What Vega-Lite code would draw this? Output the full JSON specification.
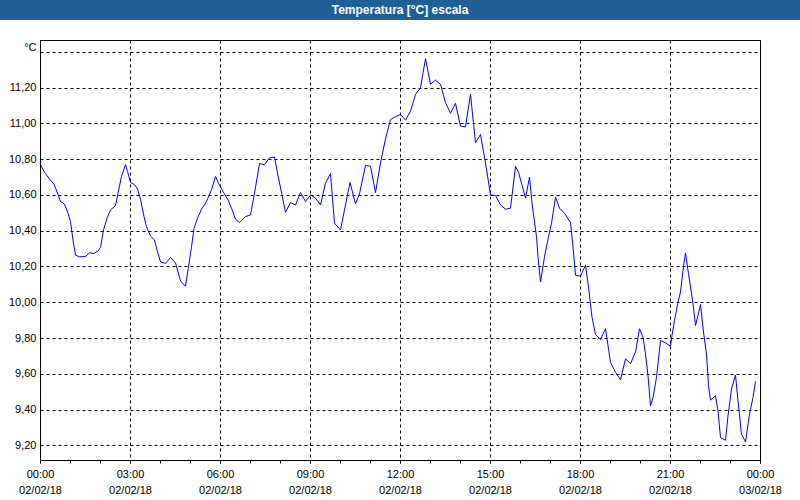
{
  "$schema": "https://vega.github.io/schema/vega-lite/v6.json",
  "padding": 0,
  "background": "#ffffff",
  "spacing": 20,
  "bounds": "flush",
  "center": true,
  "config": {"font": "Liberation Sans"},
  "vconcat": [
    {
      "width": 800,
      "height": 20,
      "view": {"fill": "#1e5f98", "stroke": null},
      "data": {"values": [{"label": "Temperatura [°C] escala"}]},
      "mark": {"type": "text", "color": "white", "fontWeight": "bold", "fontSize": 12, "font": "Liberation Sans", "baseline": "middle"},
      "encoding": {"text": {"field": "label"}}
    },
    {
      "width": 720,
      "height": 420,
      "view": {"fill": "white", "stroke": "black", "strokeWidth": 1},
      "data": {"values": [
        {"t": "2018-02-02T00:00Z", "v": 10.775},
        {"t": "2018-02-02T00:09Z", "v": 10.726},
        {"t": "2018-02-02T00:19Z", "v": 10.689},
        {"t": "2018-02-02T00:28Z", "v": 10.66},
        {"t": "2018-02-02T00:35Z", "v": 10.61},
        {"t": "2018-02-02T00:41Z", "v": 10.563},
        {"t": "2018-02-02T00:49Z", "v": 10.548},
        {"t": "2018-02-02T00:56Z", "v": 10.498},
        {"t": "2018-02-02T01:01Z", "v": 10.45},
        {"t": "2018-02-02T01:06Z", "v": 10.348},
        {"t": "2018-02-02T01:11Z", "v": 10.263},
        {"t": "2018-02-02T01:19Z", "v": 10.254},
        {"t": "2018-02-02T01:31Z", "v": 10.256},
        {"t": "2018-02-02T01:39Z", "v": 10.276},
        {"t": "2018-02-02T01:48Z", "v": 10.273},
        {"t": "2018-02-02T01:56Z", "v": 10.286},
        {"t": "2018-02-02T02:01Z", "v": 10.307},
        {"t": "2018-02-02T02:07Z", "v": 10.404},
        {"t": "2018-02-02T02:14Z", "v": 10.47},
        {"t": "2018-02-02T02:21Z", "v": 10.516},
        {"t": "2018-02-02T02:31Z", "v": 10.54},
        {"t": "2018-02-02T02:36Z", "v": 10.61},
        {"t": "2018-02-02T02:43Z", "v": 10.703},
        {"t": "2018-02-02T02:51Z", "v": 10.769},
        {"t": "2018-02-02T02:55Z", "v": 10.731},
        {"t": "2018-02-02T03:01Z", "v": 10.67},
        {"t": "2018-02-02T03:09Z", "v": 10.657},
        {"t": "2018-02-02T03:15Z", "v": 10.633},
        {"t": "2018-02-02T03:21Z", "v": 10.576},
        {"t": "2018-02-02T03:28Z", "v": 10.479},
        {"t": "2018-02-02T03:33Z", "v": 10.422},
        {"t": "2018-02-02T03:41Z", "v": 10.37},
        {"t": "2018-02-02T03:49Z", "v": 10.348},
        {"t": "2018-02-02T03:55Z", "v": 10.282},
        {"t": "2018-02-02T04:01Z", "v": 10.226},
        {"t": "2018-02-02T04:11Z", "v": 10.217},
        {"t": "2018-02-02T04:21Z", "v": 10.25},
        {"t": "2018-02-02T04:31Z", "v": 10.22},
        {"t": "2018-02-02T04:41Z", "v": 10.119},
        {"t": "2018-02-02T04:51Z", "v": 10.089},
        {"t": "2018-02-02T04:57Z", "v": 10.198},
        {"t": "2018-02-02T05:03Z", "v": 10.31},
        {"t": "2018-02-02T05:08Z", "v": 10.413},
        {"t": "2018-02-02T05:15Z", "v": 10.47},
        {"t": "2018-02-02T05:23Z", "v": 10.52},
        {"t": "2018-02-02T05:29Z", "v": 10.544},
        {"t": "2018-02-02T05:36Z", "v": 10.582},
        {"t": "2018-02-02T05:43Z", "v": 10.629},
        {"t": "2018-02-02T05:51Z", "v": 10.703},
        {"t": "2018-02-02T05:57Z", "v": 10.666},
        {"t": "2018-02-02T06:06Z", "v": 10.619},
        {"t": "2018-02-02T06:16Z", "v": 10.572},
        {"t": "2018-02-02T06:23Z", "v": 10.526},
        {"t": "2018-02-02T06:31Z", "v": 10.464},
        {"t": "2018-02-02T06:39Z", "v": 10.445},
        {"t": "2018-02-02T06:51Z", "v": 10.479},
        {"t": "2018-02-02T07:01Z", "v": 10.488},
        {"t": "2018-02-02T07:09Z", "v": 10.61},
        {"t": "2018-02-02T07:19Z", "v": 10.775},
        {"t": "2018-02-02T07:29Z", "v": 10.769},
        {"t": "2018-02-02T07:39Z", "v": 10.807},
        {"t": "2018-02-02T07:49Z", "v": 10.812},
        {"t": "2018-02-02T07:55Z", "v": 10.722},
        {"t": "2018-02-02T08:04Z", "v": 10.6},
        {"t": "2018-02-02T08:11Z", "v": 10.503},
        {"t": "2018-02-02T08:21Z", "v": 10.557},
        {"t": "2018-02-02T08:31Z", "v": 10.544},
        {"t": "2018-02-02T08:41Z", "v": 10.613},
        {"t": "2018-02-02T08:51Z", "v": 10.563},
        {"t": "2018-02-02T09:01Z", "v": 10.6},
        {"t": "2018-02-02T09:11Z", "v": 10.582},
        {"t": "2018-02-02T09:21Z", "v": 10.544},
        {"t": "2018-02-02T09:31Z", "v": 10.666},
        {"t": "2018-02-02T09:41Z", "v": 10.719},
        {"t": "2018-02-02T09:49Z", "v": 10.442},
        {"t": "2018-02-02T10:01Z", "v": 10.404},
        {"t": "2018-02-02T10:09Z", "v": 10.516},
        {"t": "2018-02-02T10:20Z", "v": 10.67},
        {"t": "2018-02-02T10:31Z", "v": 10.55},
        {"t": "2018-02-02T10:39Z", "v": 10.606},
        {"t": "2018-02-02T10:51Z", "v": 10.765},
        {"t": "2018-02-02T11:01Z", "v": 10.76},
        {"t": "2018-02-02T11:11Z", "v": 10.613},
        {"t": "2018-02-02T11:21Z", "v": 10.779},
        {"t": "2018-02-02T11:31Z", "v": 10.913},
        {"t": "2018-02-02T11:41Z", "v": 11.022},
        {"t": "2018-02-02T11:51Z", "v": 11.037},
        {"t": "2018-02-02T12:01Z", "v": 11.05},
        {"t": "2018-02-02T12:11Z", "v": 11.018},
        {"t": "2018-02-02T12:21Z", "v": 11.068},
        {"t": "2018-02-02T12:31Z", "v": 11.162},
        {"t": "2018-02-02T12:41Z", "v": 11.199},
        {"t": "2018-02-02T12:51Z", "v": 11.362},
        {"t": "2018-02-02T13:01Z", "v": 11.218},
        {"t": "2018-02-02T13:11Z", "v": 11.242},
        {"t": "2018-02-02T13:21Z", "v": 11.218},
        {"t": "2018-02-02T13:31Z", "v": 11.116},
        {"t": "2018-02-02T13:41Z", "v": 11.056},
        {"t": "2018-02-02T13:51Z", "v": 11.112},
        {"t": "2018-02-02T14:01Z", "v": 10.984},
        {"t": "2018-02-02T14:11Z", "v": 10.981},
        {"t": "2018-02-02T14:21Z", "v": 11.162},
        {"t": "2018-02-02T14:31Z", "v": 10.891},
        {"t": "2018-02-02T14:41Z", "v": 10.938},
        {"t": "2018-02-02T14:51Z", "v": 10.779},
        {"t": "2018-02-02T15:01Z", "v": 10.6},
        {"t": "2018-02-02T15:11Z", "v": 10.597},
        {"t": "2018-02-02T15:21Z", "v": 10.544},
        {"t": "2018-02-02T15:31Z", "v": 10.52},
        {"t": "2018-02-02T15:41Z", "v": 10.526},
        {"t": "2018-02-02T15:51Z", "v": 10.76},
        {"t": "2018-02-02T15:57Z", "v": 10.726},
        {"t": "2018-02-02T16:03Z", "v": 10.666},
        {"t": "2018-02-02T16:11Z", "v": 10.582},
        {"t": "2018-02-02T16:19Z", "v": 10.7},
        {"t": "2018-02-02T16:24Z", "v": 10.554},
        {"t": "2018-02-02T16:33Z", "v": 10.366},
        {"t": "2018-02-02T16:36Z", "v": 10.254},
        {"t": "2018-02-02T16:41Z", "v": 10.113},
        {"t": "2018-02-02T16:49Z", "v": 10.254},
        {"t": "2018-02-02T16:57Z", "v": 10.366},
        {"t": "2018-02-02T17:03Z", "v": 10.441},
        {"t": "2018-02-02T17:11Z", "v": 10.588},
        {"t": "2018-02-02T17:19Z", "v": 10.526},
        {"t": "2018-02-02T17:29Z", "v": 10.498},
        {"t": "2018-02-02T17:41Z", "v": 10.445},
        {"t": "2018-02-02T17:46Z", "v": 10.31},
        {"t": "2018-02-02T17:51Z", "v": 10.151},
        {"t": "2018-02-02T18:01Z", "v": 10.146},
        {"t": "2018-02-02T18:11Z", "v": 10.207},
        {"t": "2018-02-02T18:17Z", "v": 10.085},
        {"t": "2018-02-02T18:24Z", "v": 9.917},
        {"t": "2018-02-02T18:31Z", "v": 9.82},
        {"t": "2018-02-02T18:41Z", "v": 9.792},
        {"t": "2018-02-02T18:51Z", "v": 9.852},
        {"t": "2018-02-02T19:01Z", "v": 9.664},
        {"t": "2018-02-02T19:11Z", "v": 9.608},
        {"t": "2018-02-02T19:21Z", "v": 9.566},
        {"t": "2018-02-02T19:31Z", "v": 9.684},
        {"t": "2018-02-02T19:41Z", "v": 9.656},
        {"t": "2018-02-02T19:51Z", "v": 9.722},
        {"t": "2018-02-02T19:59Z", "v": 9.852},
        {"t": "2018-02-02T20:06Z", "v": 9.804},
        {"t": "2018-02-02T20:11Z", "v": 9.711},
        {"t": "2018-02-02T20:16Z", "v": 9.589},
        {"t": "2018-02-02T20:21Z", "v": 9.421},
        {"t": "2018-02-02T20:26Z", "v": 9.467},
        {"t": "2018-02-02T20:33Z", "v": 9.58},
        {"t": "2018-02-02T20:41Z", "v": 9.786},
        {"t": "2018-02-02T20:51Z", "v": 9.773},
        {"t": "2018-02-02T21:01Z", "v": 9.754},
        {"t": "2018-02-02T21:04Z", "v": 9.814},
        {"t": "2018-02-02T21:09Z", "v": 9.898},
        {"t": "2018-02-02T21:16Z", "v": 10.001},
        {"t": "2018-02-02T21:21Z", "v": 10.057},
        {"t": "2018-02-02T21:26Z", "v": 10.179},
        {"t": "2018-02-02T21:31Z", "v": 10.276},
        {"t": "2018-02-02T21:37Z", "v": 10.16},
        {"t": "2018-02-02T21:46Z", "v": 9.992},
        {"t": "2018-02-02T21:51Z", "v": 9.87},
        {"t": "2018-02-02T21:56Z", "v": 9.926},
        {"t": "2018-02-02T22:01Z", "v": 9.987},
        {"t": "2018-02-02T22:07Z", "v": 9.833},
        {"t": "2018-02-02T22:13Z", "v": 9.711},
        {"t": "2018-02-02T22:17Z", "v": 9.533},
        {"t": "2018-02-02T22:21Z", "v": 9.453},
        {"t": "2018-02-02T22:31Z", "v": 9.477},
        {"t": "2018-02-02T22:36Z", "v": 9.393},
        {"t": "2018-02-02T22:41Z", "v": 9.243},
        {"t": "2018-02-02T22:51Z", "v": 9.228},
        {"t": "2018-02-02T22:56Z", "v": 9.365},
        {"t": "2018-02-02T23:03Z", "v": 9.515},
        {"t": "2018-02-02T23:11Z", "v": 9.593},
        {"t": "2018-02-02T23:16Z", "v": 9.449},
        {"t": "2018-02-02T23:23Z", "v": 9.262},
        {"t": "2018-02-02T23:31Z", "v": 9.219},
        {"t": "2018-02-02T23:39Z", "v": 9.374},
        {"t": "2018-02-02T23:46Z", "v": 9.467},
        {"t": "2018-02-02T23:51Z", "v": 9.557}
      ]},
      "resolve": {"axis": {"x": "independent"}},
      "encoding": {
        "y": {
          "field": "v",
          "type": "quantitative",
          "scale": {"domain": [9.118, 11.466], "nice": false, "zero": false},
          "axis": {
            "title": "°C",
            "titleAngle": 0,
            "titleAlign": "right",
            "titleBaseline": "alphabetic",
            "titleX": -4,
            "titleY": 10,
            "titleFontWeight": "normal",
            "titleFontSize": 11,
            "titleColor": "black",
            "values": [9.2, 9.4, 9.6, 9.8, 10.0, 10.2, 10.4, 10.6, 10.8, 11.0, 11.2, 11.4],
            "labelExpr": "datum.value > 11.3 ? '' : replace(format(datum.value, '.2f'), '.', ',')",
            "ticks": false,
            "labelPadding": 4,
            "labelFontSize": 11,
            "labelColor": "black",
            "grid": true,
            "gridColor": "black",
            "gridDash": [3, 3],
            "domainColor": "black"
          }
        }
      },
      "layer": [
        {
          "mark": {"type": "line", "color": "#0000ff", "strokeWidth": 1, "strokeOpacity": 0},
          "encoding": {
            "x": {
              "field": "t",
              "type": "temporal",
              "scale": {"type": "utc", "domain": [1517529600000, 1517616000000], "nice": false},
              "axis": {
                "orient": "bottom",
                "title": null,
                "values": [1517529600000, 1517533200000, 1517536800000, 1517540400000, 1517544000000, 1517547600000, 1517551200000, 1517554800000, 1517558400000, 1517562000000, 1517565600000, 1517569200000, 1517572800000, 1517576400000, 1517580000000, 1517583600000, 1517587200000, 1517590800000, 1517594400000, 1517598000000, 1517601600000, 1517605200000, 1517608800000, 1517612400000, 1517616000000],
                "grid": false,
                "domain": false,
                "labels": false,
                "tickColor": "black",
                "tickSize": 3
              }
            }
          }
        },
        {
          "mark": {"type": "line", "color": "#0000ff", "strokeWidth": 1},
          "encoding": {
            "x": {
              "field": "t",
              "type": "temporal",
              "scale": {"type": "utc", "domain": [1517529600000, 1517616000000], "nice": false},
              "axis": {
                "orient": "bottom",
                "title": null,
                "values": [1517529600000, 1517540400000, 1517551200000, 1517562000000, 1517572800000, 1517583600000, 1517594400000, 1517605200000, 1517616000000],
                "grid": true,
                "gridColor": "black",
                "gridDash": [3, 3],
                "domainColor": "black",
                "tickColor": "black",
                "tickSize": 3,
                "labelExpr": "[utcFormat(datum.value, '%H:%M'), utcFormat(datum.value, '%d/%m/%y')]",
                "labelFontSize": 11,
                "labelColor": "black",
                "labelPadding": 5,
                "labelLineHeight": 16,
                "labelBaseline": "top",
                "labelFlush": false,
                "labelOverlap": false,
                "labelBound": false
              }
            }
          }
        }
      ]
    }
  ]
}
